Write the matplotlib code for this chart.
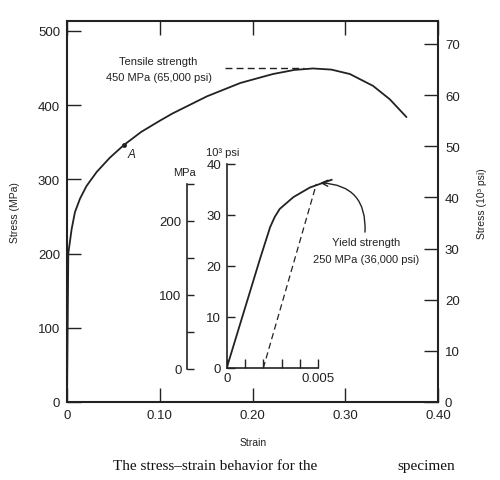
import matplotlib
matplotlib.use('Agg')
import matplotlib.pyplot as plt

plt.rcParams['font.family'] = ['Liberation Sans', 'DejaVu Sans']

# ---- data ----
strain = [0, 0.0014, 0.005, 0.0086, 0.014, 0.021, 0.032, 0.046, 0.061, 0.080,
          0.100, 0.114, 0.151, 0.187, 0.222, 0.245, 0.265, 0.285, 0.305, 0.330,
          0.348, 0.366]
stress_mpa = [0, 200, 233, 256, 274, 291, 310, 329, 346, 364,
              379, 389, 412, 430, 442, 447.5, 449.5, 448, 442, 426,
              408, 384]

inset_strain = [0, 0.00182, 0.00237, 0.00262, 0.0029, 0.00364, 0.00455, 0.00573]
inset_ksi = [0, 21.4, 27.6, 29.6, 31.2, 33.5, 35.4, 36.9]

offset_strain = [0.002, 0.0049]
offset_ksi = [0, 36.1]

tensile_mpa = 450
tensile_span = [0.170, 0.255]
point_a = (0.061, 346)

main_xticks = [0, 0.10, 0.20, 0.30, 0.40]
main_xticklabels = ['0', '0.10', '0.20', '0.30', '0.40']
main_yticks = [0, 100, 200, 300, 400, 500]
right_yticks = [0, 10, 20, 30, 40, 50, 60, 70]
inset_ksi_ticks = [0, 10, 20, 30, 40]
inset_mpa_major = [0, 100, 200]
inset_mpa_minor = [50, 150, 250]
inset_x_major = [0, 0.005]
inset_x_labels = ['0', '0.005']
inset_x_minor = [0.001, 0.002, 0.003, 0.004]

MPA_PER_KSI = 6.895
INK = '#222222'

fig = plt.figure(figsize=(5.0, 4.81), dpi=100)
fig.patch.set_facecolor('white')

# ---- main axes ----
ax = fig.add_axes([0.134, 0.1622, 0.742, 0.7921])
ax.plot(strain, stress_mpa, color=INK, lw=1.3, solid_capstyle='round',
        solid_joinstyle='round')
ax.plot(tensile_span, [tensile_mpa, tensile_mpa], color=INK, lw=1.0,
        ls=(0, (5, 3)))
ax.plot([point_a[0]], [point_a[1]], 'o', color=INK, ms=2.5)
ax.text(point_a[0] + 0.009, point_a[1] - 12, 'A', fontsize=8.5,
        style='italic', color=INK, ha='center', va='center')
ax.set_xlim(0, 0.40)
ax.set_ylim(0, 513.5)
ax.set_xticks(main_xticks)
ax.set_xticklabels(main_xticklabels)
ax.set_yticks(main_yticks)
ax.tick_params(direction='in', length=10, width=1.0, top=True,
               labelsize=9.5, pad=5, colors=INK)
for s in ax.spines.values():
    s.set_linewidth(1.5)
    s.set_color(INK)

ax.text(0.098, 460, 'Tensile strength', fontsize=8, color=INK,
        ha='center', va='center')
ax.text(0.099, 438, '450 MPa (65,000 psi)', fontsize=8, color=INK,
        ha='center', va='center')
ax.text(0.322, 215.5, 'Yield strength', fontsize=8, color=INK,
        ha='center', va='center')
ax.text(0.322, 192.5, '250 MPa (36,000 psi)', fontsize=8, color=INK,
        ha='center', va='center')

# ---- right axis (10^3 psi) ----
axr = ax.twinx()
axr.set_ylim(0, 513.5 / MPA_PER_KSI)
axr.set_yticks(right_yticks)
axr.tick_params(direction='in', length=10, width=1.0, labelsize=9.5,
                pad=5, colors=INK)
for s in axr.spines.values():
    s.set_visible(False)

# ---- inset: strain vs 10^3 psi ----
axi = fig.add_axes([226.7 / 500, (481 - 369) / 481, 119 / 500, 204 / 481])
axi.patch.set_alpha(0)
axi.plot(inset_strain, inset_ksi, color=INK, lw=1.3, solid_joinstyle='round')
axi.plot(offset_strain, offset_ksi, color=INK, lw=0.9, ls=(0, (5, 3)))
axi.set_xlim(0, 0.0065)
axi.set_ylim(0, 40)
axi.spines['top'].set_visible(False)
axi.spines['right'].set_visible(False)
axi.spines['bottom'].set_bounds(0, 0.005)
for k in ('left', 'bottom'):
    axi.spines[k].set_linewidth(1.2)
    axi.spines[k].set_color(INK)
axi.set_xticks(inset_x_major)
axi.set_xticklabels(inset_x_labels)
axi.set_xticks(inset_x_minor, minor=True)
axi.set_yticks(inset_ksi_ticks)
axi.tick_params(axis='y', direction='in', length=6, width=1.0,
                labelsize=9.5, pad=4, colors=INK)
axi.tick_params(axis='x', which='both', direction='in', length=6.5,
                width=1.0, labelsize=9.5, pad=3, colors=INK)

# ---- inset: MPa scale ----
axm = fig.add_axes([187 / 500, (481 - 370) / 481, 0.02, 205 / 481])
axm.patch.set_alpha(0)
axm.set_ylim(0, 205 / 0.742)
axm.set_xticks([])
for k in ('top', 'right', 'bottom'):
    axm.spines[k].set_visible(False)
axm.spines['left'].set_bounds(0, 250)
axm.spines['left'].set_linewidth(1.2)
axm.spines['left'].set_color(INK)
axm.set_yticks(inset_mpa_major)
axm.set_yticks(inset_mpa_minor, minor=True)
axm.tick_params(axis='y', which='both', direction='in', length=5,
                width=1.0, labelsize=9.5, pad=4, colors=INK)

# ---- yield arrow ----
ax.annotate('', xy=(0.0051, 36.3), xycoords=axi.transData,
            xytext=(0.3213, 229), textcoords=ax.transData,
            arrowprops=dict(arrowstyle='->,head_length=0.45,head_width=0.22',
                            connectionstyle='arc3,rad=0.5', lw=1.0,
                            color=INK, shrinkA=0, shrinkB=0))

# ---- labels ----
fig.text(15 / 500, 1 - 213 / 481, 'Stress (MPa)', rotation=90, fontsize=7.5,
         ha='center', va='center', color=INK)
fig.text(482 / 500, 1 - 204 / 481, 'Stress (10³ psi)', rotation=90,
         fontsize=7.5, ha='center', va='center', color=INK)
fig.text(253 / 500, 1 - 443 / 481, 'Strain', fontsize=7.5,
         ha='center', va='center', color=INK)
fig.text(223 / 500, 1 - 153 / 481, '10³ psi', fontsize=8,
         ha='center', va='center', color=INK)
fig.text(184 / 500, 1 - 173 / 481, 'MPa', fontsize=8,
         ha='center', va='center', color=INK)

fig.text(113 / 500, 1 - 467 / 481, 'The stress–strain behavior for the',
         family=['Liberation Serif', 'DejaVu Serif'], fontsize=11,
         ha='left', va='center', color='#111111')
fig.text(397 / 500, 1 - 467 / 481, 'specimen',
         family=['Liberation Serif', 'DejaVu Serif'], fontsize=11,
         ha='left', va='center', color='#111111')

fig.savefig('out.png', dpi=100)
